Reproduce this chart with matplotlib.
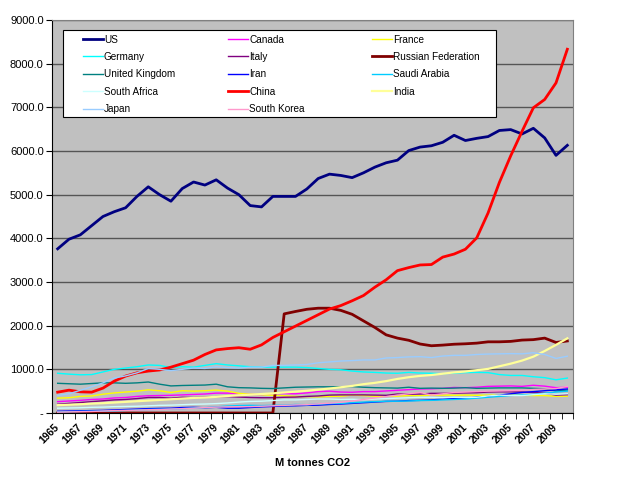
import numpy as np
import matplotlib.pyplot as plt
from matplotlib.ticker import FixedLocator
from matplotlib.patches import Rectangle
from matplotlib.legend import Legend

plt.rcParams['font.family'] = ['Liberation Sans', 'DejaVu Sans']

years = list(range(1965, 2011))

# million tonnes CO2
us = [3760, 3980, 4080, 4290, 4500, 4610, 4700, 4960, 5180, 5000,
      4850, 5140, 5290, 5220, 5340, 5150, 5000, 4750, 4720, 4960,
      4960, 4960, 5130, 5370, 5470, 5440, 5390, 5500, 5630, 5730,
      5790, 6010, 6090, 6120, 6200, 6360, 6240, 6290, 6330, 6470,
      6490, 6390, 6520, 6300, 5900, 6130]
canada = [260, 275, 290, 310, 320, 345, 355, 380, 395, 400,
          405, 415, 425, 435, 455, 455, 440, 425, 420, 440,
          445, 440, 460, 490, 500, 480, 475, 490, 490, 505,
          520, 535, 550, 555, 565, 585, 580, 590, 610, 615,
          620, 610, 635, 615, 580, 590]
france = [340, 350, 380, 390, 430, 460, 480, 500, 530, 510,
          470, 510, 500, 510, 525, 500, 450, 430, 420, 405,
          395, 380, 375, 370, 380, 385, 410, 400, 385, 380,
          385, 400, 395, 410, 410, 405, 410, 405, 410, 410,
          410, 405, 400, 400, 380, 385]
germany = [910, 890, 875, 880, 940, 1000, 1030, 1060, 1100, 1090,
           1040, 1060, 1050, 1090, 1130, 1100, 1080, 1060, 1050, 1050,
           1050, 1050, 1040, 1020, 1000, 990, 960, 940, 930, 915,
           910, 930, 915, 910, 900, 915, 925, 930, 925, 880,
           860, 860, 830, 810, 760, 800]
italy = [200, 220, 240, 260, 280, 300, 310, 330, 355, 355,
         340, 360, 355, 365, 375, 375, 365, 355, 350, 350,
         360, 365, 380, 390, 410, 415, 415, 415, 410, 405,
         435, 430, 435, 450, 450, 455, 460, 465, 480, 485,
         485, 480, 470, 455, 410, 420]
russia = [0] * 20 + [2270, 2325, 2375, 2400, 2400, 2350, 2260, 2110, 1960, 1790,
                     1715, 1665, 1580, 1540, 1555, 1575, 1585, 1600, 1630, 1630,
                     1640, 1670, 1680, 1715, 1615, 1650]
uk = [680, 670, 660, 675, 690, 690, 680, 690, 710, 660,
      620, 630, 635, 640, 660, 600, 580, 575, 565, 560,
      575, 590, 595, 600, 600, 600, 605, 590, 580, 575,
      570, 590, 565, 570, 565, 570, 580, 565, 570, 575,
      575, 575, 565, 555, 505, 525]
iran = [40, 45, 50, 55, 60, 70, 80, 90, 100, 105,
        110, 125, 130, 120, 130, 110, 110, 125, 140, 150,
        160, 165, 175, 180, 195, 205, 220, 235, 250, 265,
        270, 285, 290, 300, 320, 330, 340, 360, 380, 410,
        440, 470, 490, 510, 530, 550]
saudi = [25, 30, 35, 40, 45, 50, 60, 70, 80, 85,
         90, 100, 115, 125, 140, 160, 170, 175, 170, 175,
         180, 195, 190, 205, 215, 220, 235, 250, 260, 270,
         270, 275, 285, 290, 300, 310, 320, 340, 360, 380,
         400, 415, 425, 455, 480, 500]
south_africa = [110, 115, 120, 130, 135, 145, 150, 155, 165, 175,
                180, 190, 200, 205, 215, 230, 250, 265, 270, 285,
                300, 300, 310, 320, 320, 310, 315, 305, 320, 330,
                340, 350, 360, 360, 350, 360, 355, 360, 390, 410,
                400, 400, 420, 440, 430, 440]
china = [477, 523, 485, 477, 570, 730, 846, 920, 960, 985,
         1050, 1130, 1210, 1340, 1445, 1475, 1495, 1460, 1560, 1730,
         1860, 1990, 2120, 2250, 2380, 2460, 2570, 2690, 2880, 3050,
         3260, 3330, 3390, 3400, 3570, 3640, 3750, 4010, 4580, 5280,
         5890, 6450, 6990, 7180, 7560, 8330]
india = [180, 190, 200, 215, 225, 240, 255, 270, 285, 300,
         315, 330, 345, 355, 370, 390, 405, 420, 435, 450,
         470, 490, 510, 535, 560, 590, 620, 660, 690, 730,
         780, 820, 850, 870, 900, 930, 950, 980, 1010, 1070,
         1130, 1200, 1290, 1420, 1560, 1710]
japan = [400, 440, 520, 600, 690, 800, 850, 920, 1020, 1000,
         970, 1000, 1030, 1020, 1060, 1040, 1030, 1050, 1050, 1090,
         1090, 1100, 1110, 1150, 1170, 1190, 1200, 1215, 1215, 1260,
         1270, 1285, 1290, 1270, 1305, 1320, 1320, 1340, 1350, 1355,
         1360, 1355, 1380, 1340, 1250, 1300]
south_korea = [20, 25, 30, 35, 45, 55, 60, 65, 75, 80,
               90, 100, 110, 125, 135, 140, 145, 145, 155, 165,
               175, 185, 190, 210, 225, 245, 275, 310, 345, 375,
               410, 440, 470, 410, 440, 470, 480, 490, 500, 505,
               510, 520, 540, 550, 560, 610]

series = [
    ('US', us, '#000080', 2.0),
    ('Canada', canada, '#FF00FF', 1.0),
    ('France', france, '#FFFF00', 1.0),
    ('Germany', germany, '#00FFFF', 1.0),
    ('Italy', italy, '#800080', 1.0),
    ('Russian Federation', russia, '#800000', 2.0),
    ('United Kingdom', uk, '#008080', 1.0),
    ('Iran', iran, '#0000FF', 1.0),
    ('Saudi Arabia', saudi, '#00CCFF', 1.0),
    ('South Africa', south_africa, '#CCFFFF', 1.0),
    ('China', china, '#FF0000', 2.0),
    ('India', india, '#FFFF99', 1.6),
    ('Japan', japan, '#99CCFF', 1.0),
    ('South Korea', south_korea, '#FF99CC', 1.0),
]

fig = plt.figure(figsize=(6.4, 4.8), dpi=100)
ax = fig.add_axes([52 / 640, 67 / 480, 521 / 640, 393 / 480])
ax.set_facecolor('#C0C0C0')

x = np.arange(len(years))
lines = {}
for name, vals, col, lw in series:
    ln, = ax.plot(x, vals, color=col, lw=lw, solid_joinstyle='round', zorder=3)
    lines[name] = ln

ax.set_xlim(-0.5, len(years) - 0.5)
ax.set_ylim(0, 9000)

yt = np.arange(0, 9001, 1000)
ax.set_yticks(yt)
ax.set_yticklabels(['-'] + ['%.1f' % v for v in yt[1:]])
ax.yaxis.grid(True, color='#555555', lw=1.0, zorder=1)
ax.set_axisbelow(True)

ax.set_xticks(x[::2])
ax.set_xticklabels([str(y) for y in years[::2]], rotation=45, ha='right', va='center',
                   rotation_mode='anchor', fontsize=7.5, fontweight='bold')
ax.xaxis.set_minor_locator(FixedLocator(np.arange(-0.5, len(years), 1.0)))
ax.tick_params(axis='x', which='major', length=0, pad=9)
ax.tick_params(axis='x', which='minor', length=4, direction='out', color='black')
ax.tick_params(axis='y', length=4, direction='out', labelsize=8, pad=2)

for s in ['top', 'right']:
    ax.spines[s].set_color('#808080')
for s in ['left', 'bottom']:
    ax.spines[s].set_color('black')

ax.set_xlabel('M tonnes CO2', fontsize=8, fontweight='bold', labelpad=9)

# legend box with three columns, filled row by row as in the original
ax.add_patch(Rectangle((0.021, 0.753), 0.831, 0.222, transform=ax.transAxes,
                       facecolor='white', edgecolor='black', lw=0.8, zorder=4))
cols = [['US', 'Germany', 'United Kingdom', 'South Africa', 'Japan'],
        ['Canada', 'Italy', 'Iran', 'China', 'South Korea'],
        ['France', 'Russian Federation', 'Saudi Arabia', 'India']]
col_x = [0.0595, 0.338, 0.614]
for names, cx in zip(cols, col_x):
    leg = Legend(ax, [lines[n] for n in names], names, loc='upper left',
                 bbox_to_anchor=(cx, 0.963), frameon=False, fontsize=7.2,
                 handlelength=2.0, handletextpad=0.1, borderpad=0,
                 labelspacing=0.74, borderaxespad=0)
    leg.set_zorder(5)
    ax.add_artist(leg)

fig.savefig('out.png', dpi=100, facecolor='white')
